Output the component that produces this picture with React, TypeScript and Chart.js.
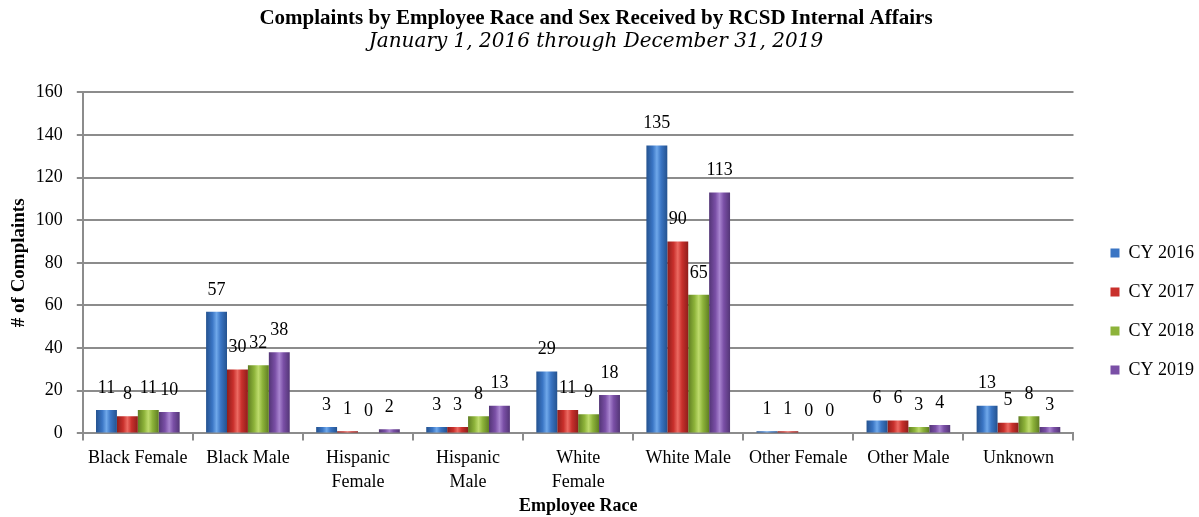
import React, { useEffect, useRef } from "react";
import { Chart, registerables } from "chart.js";

Chart.register(...registerables);

const categories: (string | string[])[] = [
  "Black Female",
  "Black Male",
  ["Hispanic", "Female"],
  ["Hispanic", "Male"],
  ["White", "Female"],
  "White Male",
  "Other Female",
  "Other Male",
  "Unknown",
];
const cy2016 = [11, 57, 3, 3, 29, 135, 1, 6, 13];
const cy2017 = [8, 30, 1, 3, 11, 90, 1, 6, 5];
const cy2018 = [11, 32, 0, 8, 9, 65, 0, 3, 8];
const cy2019 = [10, 38, 2, 13, 18, 113, 0, 4, 3];
const seriesNames = ["CY 2016", "CY 2017", "CY 2018", "CY 2019"];
const yTicks = [0, 20, 40, 60, 80, 100, 120, 140, 160];

const FONT = "'Liberation Serif', 'Times New Roman', serif";

const palette = [
  { base: "#3a75c4", light: "#6fa8ea", dark: "#24528f" },
  { base: "#c9302c", light: "#ec6a62", dark: "#8f1e1b" },
  { base: "#8db33a", light: "#bddb6c", dark: "#5f7e22" },
  { base: "#7a4fa6", light: "#a985d0", dark: "#533576" },
];

const gradientPlugin = {
  id: "barGradient",
  beforeDatasetsDraw(chart: any) {
    const ctx = chart.ctx;
    chart.data.datasets.forEach((ds: any, di: number) => {
      const meta = chart.getDatasetMeta(di);
      const p = palette[di];
      meta.data.forEach((el: any) => {
        const w = el.width || 1;
        const g = ctx.createLinearGradient(el.x - w / 2, 0, el.x + w / 2, 0);
        g.addColorStop(0, p.dark);
        g.addColorStop(0.3, p.base);
        g.addColorStop(0.5, p.light);
        g.addColorStop(0.7, p.base);
        g.addColorStop(1, p.dark);
        el.options = { ...el.options, backgroundColor: g };
      });
    });
  },
};

const valueLabelPlugin = {
  id: "valueLabels",
  afterDatasetsDraw(chart: any) {
    const ctx = chart.ctx;
    ctx.save();
    ctx.font = `18px ${FONT}`;
    ctx.fillStyle = "#000";
    ctx.textAlign = "center";
    ctx.textBaseline = "middle";
    chart.data.datasets.forEach((ds: any, di: number) => {
      const meta = chart.getDatasetMeta(di);
      meta.data.forEach((el: any, i: number) => {
        ctx.fillText(String(ds.data[i]), el.x, el.y - 22);
      });
    });
    ctx.restore();
  },
};

// nudge the legend box to sit where the reference has it
const legendShiftPlugin = {
  id: "legendShift",
  afterLayout(chart: any) {
    const lg = chart.legend;
    if (!lg) return;
    const dx = 16;
    const dy = 53;
    lg.left += dx;
    lg.right += dx;
    lg.top += dy;
    lg.bottom += dy;
  },
};

export default function App() {
  const ref = useRef<HTMLCanvasElement>(null);
  useEffect(() => {
    if (!ref.current) return;
    const series = [cy2016, cy2017, cy2018, cy2019];
    const chart = new Chart(ref.current, {
      type: "bar",
      data: {
        labels: categories,
        datasets: series.map((d, i) => ({
          label: seriesNames[i],
          data: d,
          backgroundColor: palette[i].base,
          borderWidth: 0,
          categoryPercentage: 0.76,
          barPercentage: 1.0,
        })),
      },
      options: {
        animation: false,
        responsive: true,
        maintainAspectRatio: false,
        layout: { padding: { left: 4, right: 11, top: 0, bottom: 0 } },
        plugins: {
          title: {
            display: true,
            text: "Complaints by Employee Race and Sex Received by RCSD Internal Affairs",
            color: "#000",
            font: { family: FONT, size: 21, weight: "bold" },
            padding: { top: 6, bottom: -1 },
          },
          subtitle: {
            display: true,
            text: "January 1, 2016 through December 31, 2019",
            color: "#000",
            font: { family: "'DejaVu Serif', serif", size: 20, style: "italic" },
            padding: { top: 0, bottom: 38 },
          },
          legend: {
            position: "right",
            align: "center",
            labels: {
              boxWidth: 9,
              boxHeight: 9,
              padding: 21,
              color: "#000",
              font: { family: FONT, size: 18 },
              generateLabels: (c: any) =>
                c.data.datasets.map((ds: any, i: number) => ({
                  text: ds.label,
                  fillStyle: palette[i].base,
                  strokeStyle: palette[i].base,
                  lineWidth: 0,
                  hidden: false,
                  datasetIndex: i,
                  fontColor: "#000",
                })),
            },
          },
          tooltip: { enabled: false },
        },
        scales: {
          x: {
            grid: {
              display: true,
              drawOnChartArea: false,
              drawTicks: true,
              tickLength: 7,
              color: "#8c8c8c",
              lineWidth: 2,
            },
            border: { display: true, color: "#8c8c8c", width: 2 },
            ticks: {
              color: "#000",
              font: { family: FONT, size: 18, lineHeight: 1.333 },
              maxRotation: 0,
              autoSkip: false,
              padding: 6,
            },
            title: {
              display: true,
              text: "Employee Race",
              color: "#000",
              font: { family: FONT, size: 18, weight: "bold" },
              padding: { top: -5, bottom: 0 },
            },
          },
          y: {
            min: 0,
            max: 160,
            afterBuildTicks: (axis: any) => {
              axis.ticks = yTicks.map((v) => ({ value: v }));
            },
            grid: {
              color: "#8c8c8c",
              lineWidth: 2,
              tickLength: 6,
            },
            border: { display: true, color: "#8c8c8c", width: 2 },
            ticks: {
              color: "#000",
              font: { family: FONT, size: 18 },
              padding: 14,
            },
            title: {
              display: true,
              text: "# of Complaints",
              color: "#000",
              font: { family: FONT, size: 19, weight: "bold" },
              padding: { top: 4, bottom: -9 },
            },
          },
        },
      },
      plugins: [gradientPlugin, valueLabelPlugin, legendShiftPlugin],
    });
    return () => chart.destroy();
  }, []);
  return (
    <div style={{ position: "fixed", left: 0, top: 0, width: 1199, height: 517 }}>
      <canvas ref={ref} />
    </div>
  );
}
